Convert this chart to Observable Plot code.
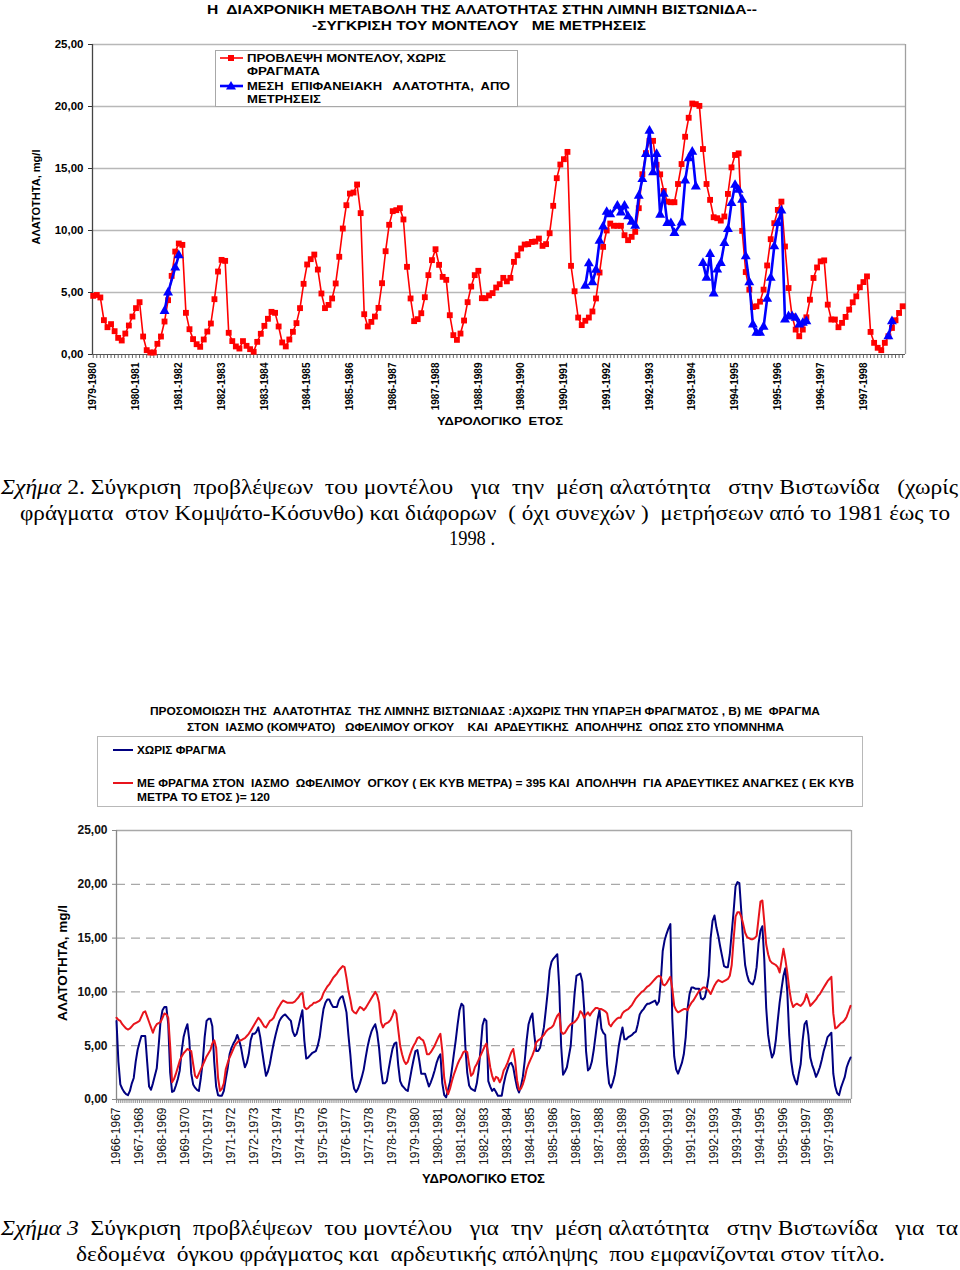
<!DOCTYPE html>
<html><head><meta charset="utf-8">
<script src="https://cdn.jsdelivr.net/npm/d3@7"></script>
<script src="https://cdn.jsdelivr.net/npm/@observablehq/plot@0.6"></script>
<style>
html,body{margin:0;padding:0;background:#fff;}
#page{position:relative;width:960px;height:1270px;overflow:hidden;background:#fff;}
#c1,#c2{position:absolute;left:0;}
#c1{top:0px}
#c2{top:800px}
#ov{position:absolute;left:0;top:0;}
#ov text{white-space:pre;}
</style></head><body>
<div id="page"><div id="c1"></div><div id="c2"></div>
<svg id="ov" width="960" height="1270" xmlns="http://www.w3.org/2000/svg"></svg></div>
<script>
// ---------------- DATA: chart 1 (Σχήμα 2) ----------------
const yearLabelsTop = ["1979-1980","1980-1981","1981-1982","1982-1983","1983-1984","1984-1985","1985-1986","1986-1987","1987-1988","1988-1989","1989-1990","1990-1991","1991-1992","1992-1993","1993-1994","1994-1995","1995-1996","1996-1997","1997-1998"];
// monthly model prediction, no dams (mg/l), Oct 1979 .. Sep 1998
const modelPrediction = [
 4.73,4.8,4.6,2.77,2.2,2.45,1.88,1.34,1.13,1.69,2.34,3.06,
 3.74,4.22,1.45,0.35,0.16,0.16,0.86,1.45,2.66,4.38,6.34,8.3,
 8.95,8.84,3.36,2.04,1.24,0.83,0.62,1.21,1.85,2.5,4.46,6.69,
 7.63,7.55,1.75,1.08,0.65,0.48,1.08,0.7,0.43,0.22,1.02,1.67,
 2.31,2.88,3.44,3.36,2.26,0.97,0.65,1.21,1.83,2.53,3.74,5.7,
 7.26,7.69,8.06,6.85,4.92,3.74,4.0,4.52,5.73,7.88,10.16,12.04,
 12.98,13.06,13.71,11.4,3.25,2.26,2.63,3.06,3.76,5.75,8.33,10.46,
 11.56,11.64,11.8,10.89,7.07,4.52,2.69,2.85,3.33,4.62,6.4,7.61,
 8.49,7.23,6.26,6.02,3.17,1.56,1.18,1.69,2.74,4.22,5.48,6.4,
 6.75,4.54,4.54,4.76,4.95,5.4,5.67,6.18,5.9,6.18,7.47,8.0,
 8.55,8.87,8.9,9.08,9.11,9.35,8.76,8.9,9.78,11.99,14.22,15.32,
 15.75,16.34,7.15,5.1,2.98,2.37,2.72,2.98,3.47,4.52,6.61,8.68,
 10.0,10.56,10.38,10.38,10.38,9.62,9.22,9.49,9.89,11.8,14.54,16.24,
 17.23,17.23,15.3,14.53,13.19,12.33,12.28,12.28,13.75,15.36,17.56,19.09,
 20.24,20.19,20.05,16.57,13.75,12.47,11.07,10.99,10.8,11.13,12.95,15.09,
 16.09,16.22,9.97,6.65,5.23,3.83,3.89,4.26,5.23,7.18,9.3,10.59,
 11.66,12.33,8.71,5.36,3.08,2.01,1.47,2.01,3.0,4.42,6.17,7.02,
 7.51,7.59,4.02,2.82,2.82,2.2,2.55,3.03,3.62,4.21,4.69,5.42,
 5.84,6.3,1.82,0.94,0.54,0.35,0.94,1.47,2.14,2.76,3.35,3.89
];
// measured mean surface salinity: month index (0 = Oct 1979) and value
const measuredMonths = [20,21,23,24,
 138,139,140,141,142,143,144,145,147,148,149,150,151,152,153,154,155,156,157,158,159,160,161,162,163,165,166,167,168,169,
 171,172,173,174,175,176,177,178,179,180,181,182,183,184,185,186,187,188,189,190,191,192,193,194,195,196,197,198,199,200,
 223,224];
const measuredValues = [3.5,5.0,7.0,8.0,
 5.54,7.34,5.81,6.83,9.17,10.32,11.5,11.3,12.0,11.45,12.0,11.13,10.7,10.38,12.8,14.14,16.16,18.04,14.68,16.16,11.26,12.95,10.59,10.59,9.79,10.64,14.02,15.82,16.35,13.54,
 7.37,6.17,8.1,4.91,6.84,7.37,8.98,10.11,12.2,13.67,13.27,12.47,7.91,5.82,2.41,1.74,1.74,2.23,4.48,6.17,8.71,10.59,11.61,2.81,3.08,3.08,2.95,2.41,2.55,2.68,
 1.47,2.68];
const measuredRunStarts = [138,171,223];
const yTicksTop = [0,5,10,15,20,25];

// ---------------- DATA: chart 2 (Σχήμα 3) ----------------
const yearLabelsBottom = ["1966-1967","1967-1968","1968-1969","1969-1970","1970-1971","1971-1972","1972-1973","1973-1974","1974-1975","1975-1976","1976-1977","1977-1978","1978-1979","1979-1980","1980-1981","1981-1982","1982-1983","1983-1984","1984-1985","1985-1986","1986-1987","1987-1988","1988-1989","1989-1990","1990-1991","1991-1992","1992-1993","1993-1994","1994-1995","1995-1996","1996-1997","1997-1998"];
const withoutDam = [
 7.3,3.5,1.4,1.0,0.7,0.5,0.4,0.8,1.5,2.0,3.5,4.6,
 5.3,5.9,5.9,5.9,3.5,1.2,0.9,1.5,2.2,2.9,5.0,7.3,
 8.3,8.6,8.6,7.0,2.5,0.7,0.8,1.3,1.9,2.7,4.5,5.8,
 6.5,7.0,5.5,2.4,1.4,1.1,0.9,0.8,2.0,3.5,5.8,7.3,
 7.5,7.5,6.8,3.5,1.2,0.4,0.35,0.35,0.8,1.9,2.9,4.2,
 4.8,5.2,5.5,6.0,5.5,4.8,3.8,3.0,3.4,4.2,5.5,6.1,
 6.1,6.3,6.7,5.8,4.5,3.3,2.2,2.6,3.3,4.3,5.2,6.0,
 6.7,7.3,7.6,7.8,7.9,7.7,7.5,7.3,6.3,5.9,6.1,6.8,
 7.6,8.3,5.5,3.8,3.9,4.1,4.3,4.4,4.5,5.0,5.8,7.2,
 8.4,9.0,9.3,9.3,8.9,8.6,8.6,8.6,9.2,9.5,9.6,8.9,
 8.1,6.0,4.2,2.0,1.0,0.7,1.0,1.5,2.1,2.8,3.9,4.9,
 5.7,6.3,6.7,7.0,6.2,4.8,2.8,1.5,1.5,1.7,2.8,3.8,
 4.7,5.2,5.3,3.2,1.7,1.3,1.1,0.9,0.8,1.8,2.8,3.7,
 4.5,4.6,3.6,2.4,2.4,2.4,1.8,1.2,1.6,2.1,2.7,3.4,
 3.9,4.2,1.5,0.4,0.2,0.9,1.6,2.8,4.2,5.5,7.0,8.3,
 8.9,8.7,5.0,2.5,1.3,1.0,0.9,0.8,1.5,2.8,4.8,6.9,
 7.5,7.3,1.7,1.2,0.8,1.0,0.7,0.35,0.35,0.35,1.4,2.2,
 2.8,3.3,3.4,3.0,2.0,1.1,0.65,1.2,2.1,3.6,5.5,7.0,
 7.6,8.0,6.0,4.5,4.5,4.8,5.8,6.7,8.3,10.0,12.0,12.8,
 13.1,13.3,13.5,10.5,5.0,2.3,2.6,3.0,4.0,5.0,7.5,9.8,
 11.5,11.6,11.7,11.0,8.5,4.5,2.7,2.9,3.5,4.6,6.0,7.4,
 8.3,6.6,6.2,6.0,3.2,1.5,1.1,1.6,2.3,3.5,4.9,5.9,
 6.7,5.6,5.6,5.8,5.9,6.0,6.2,6.3,7.0,7.9,8.2,8.4,
 8.7,8.9,8.9,9.0,9.1,9.2,8.8,9.1,11.0,13.8,14.8,15.4,
 15.9,16.3,7.5,4.0,2.8,2.4,2.9,3.4,4.2,5.8,8.5,9.8,
 10.4,10.4,10.3,10.3,10.3,9.4,9.3,9.5,10.3,11.5,15.0,16.6,
 17.1,16.0,15.2,14.2,13.3,12.4,12.3,12.3,13.5,15.5,17.5,19.8,
 20.2,20.1,17.5,14.6,12.5,11.6,11.0,10.8,10.7,11.2,12.3,14.5,
 15.7,16.1,13.0,8.5,6.0,4.8,3.9,4.3,5.5,7.3,9.0,10.3,
 11.5,12.2,10.0,6.0,3.6,2.4,1.8,1.4,2.4,3.3,5.5,7.0,
 7.3,6.0,3.9,3.2,2.7,2.1,2.5,3.0,3.7,4.5,5.1,5.8,
 6.0,6.2,2.4,1.2,0.6,0.4,1.1,1.6,2.1,3.0,3.5,3.9
];
const withDam = [
 7.6,7.4,7.3,7.0,6.8,6.6,6.5,6.6,6.8,7.0,7.1,7.2,
 7.3,7.7,8.1,8.2,7.7,7.2,6.7,6.2,6.7,7.0,7.1,7.2,
 7.6,8.0,7.9,7.6,5.0,1.6,1.9,2.4,3.0,3.6,4.0,4.3,
 4.5,4.7,4.6,4.5,3.3,2.2,2.0,2.4,2.8,3.2,3.6,4.0,
 4.3,4.6,5.2,5.5,4.8,2.0,0.8,1.0,1.5,2.8,3.4,3.9,
 4.3,4.7,5.1,5.3,5.5,5.5,5.6,5.7,5.9,6.1,6.4,6.7,
 7.0,7.3,7.6,7.4,7.1,6.8,6.7,7.0,7.3,7.4,7.6,8.0,
 8.4,8.7,9.0,9.2,9.1,9.0,9.0,9.0,9.0,9.1,9.3,9.5,
 9.8,9.9,8.6,8.4,8.5,8.7,8.8,9.0,9.0,9.1,9.2,9.4,
 9.9,10.2,10.5,10.7,11.0,11.3,11.5,11.7,12.0,12.2,12.4,12.3,
 11.3,10.1,9.3,8.3,8.1,8.0,8.3,8.6,8.5,8.3,8.5,8.8,
 9.1,9.4,9.7,10.0,9.7,9.0,7.2,6.7,7.0,7.1,7.2,7.4,
 7.8,8.3,8.0,6.5,5.0,4.2,3.6,3.3,3.5,4.1,4.6,5.0,
 5.3,5.7,5.8,5.6,5.5,5.0,4.2,4.2,4.4,4.7,5.0,5.4,
 5.8,6.1,4.5,2.0,1.0,0.5,1.0,1.7,2.3,2.8,3.3,3.7,
 4.0,4.4,4.5,4.4,3.2,2.2,2.4,3.0,3.3,3.7,4.1,4.5,
 4.9,5.2,4.2,3.0,2.2,1.7,2.1,2.0,1.6,2.0,2.7,3.0,
 3.4,3.9,4.4,4.7,3.6,1.8,0.9,1.0,1.4,2.0,2.8,3.3,
 3.7,4.1,4.6,5.3,5.5,5.6,5.8,6.0,6.3,6.5,6.6,6.7,
 6.9,7.4,7.8,8.0,6.3,6.1,6.2,6.5,6.8,7.0,7.1,7.2,
 7.4,7.7,8.2,8.0,7.6,7.9,8.1,7.8,8.1,8.3,8.5,8.5,
 8.4,8.4,8.3,8.2,8.0,7.0,6.8,7.1,7.3,7.5,7.6,7.6,
 8.0,8.2,8.3,8.4,8.6,8.8,9.1,9.4,9.6,9.8,10.0,10.1,
 10.3,10.5,10.6,10.8,11.0,11.2,11.4,11.5,11.4,10.7,10.6,10.8,
 11.1,11.4,10.3,8.7,8.3,8.1,8.2,8.3,8.4,8.4,8.3,8.7,
 9.0,9.2,9.5,9.8,10.1,10.2,10.4,10.4,10.3,10.1,9.8,10.2,
 10.6,10.9,11.1,11.0,10.9,11.0,11.1,11.2,11.5,12.5,14.9,17.0,
 17.4,17.4,17.0,16.3,15.5,15.1,15.0,14.9,14.9,15.0,15.2,16.8,
 18.4,18.5,16.5,14.4,13.5,12.9,12.7,12.6,12.5,12.3,11.8,12.9,
 14.0,13.0,11.8,10.3,9.2,8.6,8.8,8.9,8.8,8.7,8.9,9.2,
 9.8,9.3,8.7,8.9,9.1,9.3,9.6,9.8,10.1,10.4,10.7,11.0,
 11.2,11.4,8.0,6.6,6.7,6.9,7.1,7.2,7.4,7.7,8.2,8.7
];
const yTicksBottom = [0,5,10,15,20,25];

// ---------------- helpers ----------------
const fmt = d => d.toFixed(2).replace(".", ",");
const sans = "'Liberation Sans', Arial, Helvetica, sans-serif";
const narrow = "'Liberation Sans Narrow', 'Liberation Sans', Arial, sans-serif";
const serif = "'Liberation Serif', 'Times New Roman', serif";

// ---------------- chart 1 ----------------
const predData = modelPrediction.map((v, i) => ({m: i, v}));
let run = 0;
const measData = measuredMonths.map((m, i) => {
  if (measuredRunStarts.includes(m)) run++;
  return {m, v: measuredValues[i], run};
});
const n1 = modelPrediction.length;
const x1max = n1 - 1 + 0.8;
const chart1 = Plot.plot({
  width: 960, height: 430,
  marginLeft: 92, marginRight: 55, marginTop: 44, marginBottom: 76,
  style: {background: "transparent", fontFamily: sans, fontWeight: "bold", fontSize: "11px", color: "#000", overflow: "visible"},
  x: {domain: [-0.2, x1max], axis: null, label: null},
  y: {domain: [0, 25], axis: null, label: null},
  marks: [
    Plot.ruleY([5, 10, 15, 20, 25], {stroke: "#b8b8b8", strokeWidth: 1.3, strokeOpacity: 1}),
    Plot.ruleX([x1max], {stroke: "#a0a0a0", strokeWidth: 1.3, strokeOpacity: 1}),
    Plot.axisY({ticks: yTicksTop, tickFormat: fmt, label: null, tickSize: 4, tickPadding: 5, fontSize: 11.5, fontWeight: "bold", stroke: "#333"}),
    Plot.axisX({ticks: d3.range(n1), label: null, tickSize: 4, tickFormat: () => "", stroke: "#555", strokeOpacity: 0.9}),
    Plot.axisX({ticks: d3.range(0, n1, 12), label: null, tickSize: 0, tickPadding: 8, tickRotate: -90, tickFormat: m => yearLabelsTop[m / 12], fontSize: 10, fontWeight: "bold"}),
    Plot.ruleX([-0.2], {stroke: "#444", strokeWidth: 1.3, strokeOpacity: 1}),
    Plot.ruleY([0], {stroke: "#555", strokeWidth: 1.2, strokeOpacity: 1}),
    Plot.line(predData, {x: "m", y: "v", stroke: "#ff0000", strokeWidth: 1.6}),
    Plot.dot(predData, {x: "m", y: "v", symbol: "square", r: 3.3, fill: "#ff0000", stroke: "none"}),
    Plot.line(measData, {x: "m", y: "v", z: "run", stroke: "#0000ff", strokeWidth: 2.6}),
    Plot.dot(measData, {x: "m", y: "v", symbol: "triangle", r: 3.7, fill: "#0000ff", stroke: "none"})
  ]
});
document.getElementById("c1").appendChild(chart1);

// ---------------- chart 2 ----------------
const n2 = withoutDam.length;
const x2max = n2 - 1 + 0.5;
const noDamData = withoutDam.map((v, i) => ({m: i, v}));
const damData = withDam.map((v, i) => ({m: i, v}));
const chart2 = Plot.plot({
  width: 960, height: 380,
  marginLeft: 116, marginRight: 109, marginTop: 30, marginBottom: 81,
  style: {background: "transparent", fontFamily: sans, fontSize: "12px", color: "#111", overflow: "visible"},
  x: {domain: [0, x2max], axis: null, label: null},
  y: {domain: [0, 25], axis: null, label: null},
  marks: [
    Plot.ruleY([5, 10, 15, 20], {stroke: "#a8a8a8", strokeWidth: 1.2, strokeOpacity: 1, strokeDasharray: "9,6"}),
    Plot.ruleY([25], {stroke: "#a8a8a8", strokeWidth: 1.3, strokeOpacity: 1}),
    Plot.ruleX([x2max], {stroke: "#a8a8a8", strokeWidth: 1.3, strokeOpacity: 1}),
    Plot.axisY({ticks: yTicksBottom, tickFormat: fmt, label: null, tickSize: 4, tickPadding: 5, fontSize: 12, fontWeight: "bold", stroke: "#888"}),
    Plot.axisX({ticks: d3.range(n2), label: null, tickSize: 4, tickFormat: () => "", stroke: "#888", strokeOpacity: 0.9}),
    Plot.axisX({ticks: d3.range(0, n2, 12), label: null, tickSize: 0, tickPadding: 8, tickRotate: -90, tickFormat: m => yearLabelsBottom[m / 12], fontSize: 12}),
    Plot.ruleX([0], {stroke: "#888", strokeWidth: 1.3, strokeOpacity: 1}),
    Plot.ruleY([0], {stroke: "#888", strokeWidth: 1.3, strokeOpacity: 1}),
    Plot.line(noDamData, {x: "m", y: "v", stroke: "#000080", strokeWidth: 2}),
    Plot.line(damData, {x: "m", y: "v", stroke: "#e8141c", strokeWidth: 2})
  ]
});
document.getElementById("c2").appendChild(chart2);

// ---------------- overlay: titles, legends, axis titles, captions ----------------
const ov = d3.select("#ov");
function txt(x, y, parts, o = {}) {
  const t = ov.append("text").attr("x", x).attr("y", y)
    .attr("font-family", o.family || sans).attr("font-size", o.size || 12)
    .attr("font-weight", o.weight || "normal").attr("fill", o.fill || "#000")
    .attr("text-anchor", o.anchor || "start");
  if (o.len) t.attr("textLength", o.len).attr("lengthAdjust", "spacingAndGlyphs");
  if (o.rotate) t.attr("transform", `rotate(${o.rotate},${x},${y})`);
  (Array.isArray(parts) ? parts : [[parts]]).forEach(([s, st]) => {
    t.append("tspan").attr("font-style", st || "normal").text(s);
  });
  return t;
}
// chart 1 titles
txt(207, 14, "Η  ΔΙΑΧΡΟΝΙΚΗ ΜΕΤΑΒΟΛΗ ΤΗΣ ΑΛΑΤΟΤΗΤΑΣ ΣΤΗΝ ΛΙΜΝΗ ΒΙΣΤΩΝΙΔΑ--", {family: narrow, size: 13, weight: "bold", len: 550});
txt(312, 30, "-ΣΥΓΚΡΙΣΗ ΤΟΥ ΜΟΝΤΕΛΟΥ   ΜΕ ΜΕΤΡΗΣΕΙΣ", {family: narrow, size: 13, weight: "bold", len: 334});
// chart 1 legend
ov.append("rect").attr("x", 215.5).attr("y", 50.5).attr("width", 302).attr("height", 56).attr("fill", "#fff").attr("stroke", "#a8a8a8");
ov.append("line").attr("x1", 220).attr("x2", 243).attr("y1", 58).attr("y2", 58).attr("stroke", "#ff0000").attr("stroke-width", 1.6);
ov.append("rect").attr("x", 228).attr("y", 55).attr("width", 6).attr("height", 6).attr("fill", "#ff0000");
ov.append("line").attr("x1", 220).attr("x2", 243).attr("y1", 86).attr("y2", 86).attr("stroke", "#0000ff").attr("stroke-width", 2.6);
ov.append("path").attr("d", "M231,81 L236,89.5 L226,89.5 Z").attr("fill", "#0000ff");
txt(247, 62, "ΠΡΟΒΛΕΨΗ ΜΟΝΤΕΛΟΥ, ΧΩΡΙΣ", {family: narrow, size: 11, weight: "bold", len: 199});
txt(247, 75, "ΦΡΑΓΜΑΤΑ", {family: narrow, size: 11, weight: "bold", len: 73});
txt(247, 90, "ΜΕΣΗ  ΕΠΙΦΑΝΕΙΑΚΗ   ΑΛΑΤΟΤΗΤΑ,  ΑΠΌ", {family: narrow, size: 11, weight: "bold", len: 263});
txt(247, 103, "ΜΕΤΡΗΣΕΙΣ", {family: narrow, size: 11, weight: "bold", len: 74});
// chart 1 axis titles
txt(40, 197, "ΑΛΑΤΟΤΗΤΑ, mg/l", {size: 10.5, weight: "bold", anchor: "middle", rotate: -90, len: 95});
txt(437, 425, "ΥΔΡΟΛΟΓΙΚΟ  ΕΤΟΣ", {family: narrow, size: 11.5, weight: "bold", len: 126});
// caption 1
txt(1, 494, [["Σχήμα", "italic"], [" 2. Σύγκριση  προβλέψεων  του μοντέλου   για  την  μέση αλατότητα   στην Βιστωνίδα   (χωρίς"]], {family: serif, size: 21, len: 957});
txt(20, 520, "φράγματα  στον Κομψάτο-Κόσυνθο) και διάφορων  ( όχι συνεχών )  μετρήσεων από το 1981 έως το", {family: serif, size: 21, len: 930});
txt(449, 545, "1998 .", {family: serif, size: 21, len: 46});
// chart 2 titles
txt(150, 715, "ΠΡΟΣΟΜΟΙΩΣΗ ΤΗΣ  ΑΛΑΤΟΤΗΤΑΣ  ΤΗΣ ΛΙΜΝΗΣ ΒΙΣΤΩΝΙΔΑΣ :Α)ΧΩΡΙΣ ΤΗΝ ΥΠΑΡΞΗ ΦΡΑΓΜΑΤΟΣ , Β) ΜΕ  ΦΡΑΓΜΑ", {family: narrow, size: 11.5, weight: "bold", len: 670});
txt(187, 731, "ΣΤΟΝ  ΙΑΣΜΟ (ΚΟΜΨΑΤΟ)   ΩΦΕΛΙΜΟΥ ΟΓΚΟΥ    ΚΑΙ  ΑΡΔΕΥΤΙΚΗΣ  ΑΠΟΛΗΨΗΣ  ΟΠΩΣ ΣΤΟ ΥΠΟΜΝΗΜΑ", {family: narrow, size: 11.5, weight: "bold", len: 597});
// chart 2 legend
ov.append("rect").attr("x", 97.5).attr("y", 736.5).attr("width", 765).attr("height", 70).attr("fill", "#fff").attr("stroke", "#b8b8b8");
ov.append("line").attr("x1", 113).attr("x2", 133).attr("y1", 750).attr("y2", 750).attr("stroke", "#000080").attr("stroke-width", 2);
ov.append("line").attr("x1", 113).attr("x2", 133).attr("y1", 783).attr("y2", 783).attr("stroke", "#e8141c").attr("stroke-width", 2);
txt(137, 754, "ΧΩΡΙΣ ΦΡΑΓΜΑ", {family: narrow, size: 11.5, weight: "bold", len: 89});
txt(137, 787, "ΜΕ ΦΡΑΓΜΑ ΣΤΟΝ  ΙΑΣΜΟ  ΩΦΕΛΙΜΟΥ  ΟΓΚΟΥ ( ΕΚ ΚΥΒ ΜΕΤΡΑ) = 395 ΚΑΙ  ΑΠΟΛΗΨΗ  ΓΙΑ ΑΡΔΕΥΤΙΚΕΣ ΑΝΑΓΚΕΣ ( ΕΚ ΚΥΒ", {family: narrow, size: 11.5, weight: "bold", len: 717});
txt(137, 801, "ΜΕΤΡΑ ΤΟ ΕΤΟΣ )= 120", {family: narrow, size: 11.5, weight: "bold", len: 133});
// chart 2 axis titles
txt(67, 963, "ΑΛΑΤΟΤΗΤΑ, mg/l", {size: 13, weight: "bold", anchor: "middle", rotate: -90, len: 116});
txt(422, 1183, "ΥΔΡΟΛΟΓΙΚΟ ΕΤΟΣ", {family: narrow, size: 12.5, weight: "bold", len: 123});
// caption 2
txt(1, 1235, [["Σχήμα 3", "italic"], ["  Σύγκριση  προβλέψεων  του μοντέλου   για  την  μέση αλατότητα   στην Βιστωνίδα   για  τα"]], {family: serif, size: 21, len: 957});
txt(76, 1261, "δεδομένα  όγκου φράγματος και  αρδευτικής απόληψης  που εμφανίζονται στον τίτλο.", {family: serif, size: 21, len: 809});
</script>
</body></html>
